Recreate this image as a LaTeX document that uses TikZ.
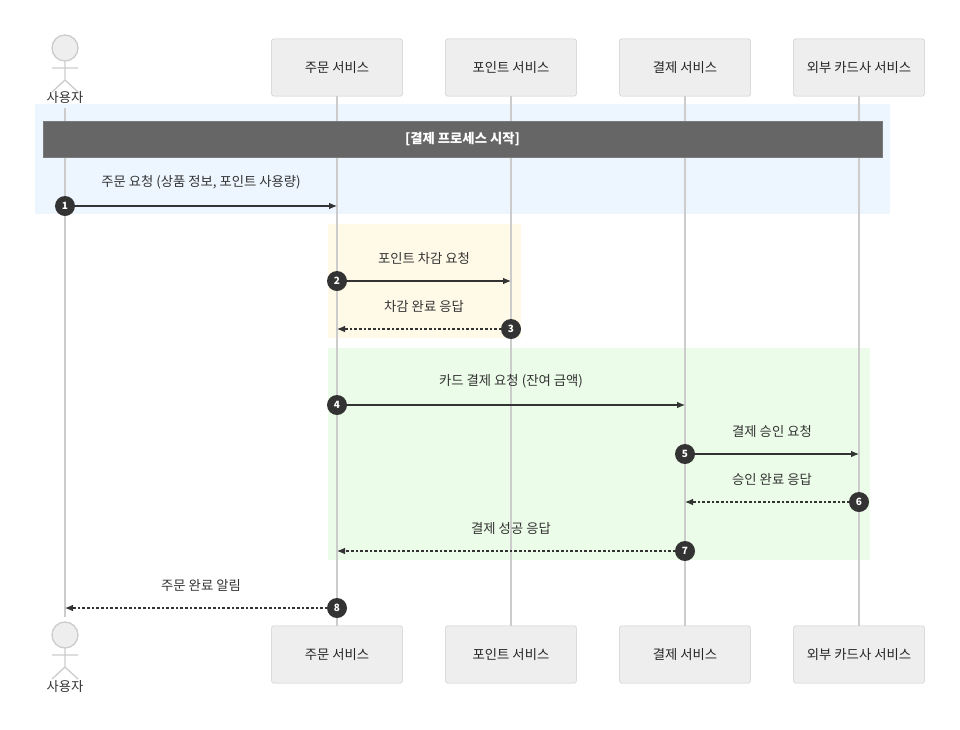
\documentclass[tikz,border=0pt]{standalone}
\usepackage{fontspec}
\setmainfont{Noto Sans CJK KR}
\usetikzlibrary{arrows.meta,calc}
\definecolor{boxfill}{HTML}{EEEEEE}
\definecolor{boxline}{HTML}{CCCCCC}
\definecolor{badge}{HTML}{333333}
\definecolor{bgblue}{HTML}{EDF6FF}
\definecolor{bgyellow}{HTML}{FFFAE8}
\definecolor{bggreen}{HTML}{EBFCE8}
\tikzset{
  part/.style={draw=boxline,fill=boxfill,rounded corners=1.5pt,minimum width=98pt,minimum height=43pt,font=\fontsize{10}{12}\selectfont,text=black!85},
  life/.style={draw=boxline,line width=1pt},
  msg/.style={-{Latex[length=6pt,width=5pt]},line width=0.8pt,draw=badge},
  reply/.style={msg,dash pattern=on 2pt off 1.5pt},
  num/.style={circle,fill=badge,text=white,inner sep=0pt,minimum size=15pt,font=\fontsize{7.5}{8}\selectfont\bfseries},
  lbl/.style={font=\fontsize{10}{12}\selectfont,text=black!80},
  actor/.style={draw=boxline,line width=1pt}
}
\begin{document}
\begin{tikzpicture}[x=0.75pt,y=-0.75pt]
  \useasboundingbox (0,0) rectangle (960,729);
  % group backgrounds
  \fill[bgblue] (35,104) rectangle (890,214);
  \fill[bgyellow] (328,224) rectangle (521,338);
  \fill[bggreen] (328,348) rectangle (870,560);
  % lifelines
  \foreach \x/\top/\bot [count=\k] in {65/108/617,337/96/626,511/96/626,685/96/626,859/96/626}{
    \coordinate (t-\k) at (\x,\top);
    \coordinate (b-\k) at (\x,\bot);
    \draw [life] (t-\k) -- (b-\k);
  }
  % participants
  \foreach \x/\name [count=\k from 2] in {337/주문 서비스,511/포인트 서비스,685/결제 서비스,859/외부 카드사 서비스}{
    \node [part] (top-\k) at (\x,67.5) {\name};
    \node [part] (bot-\k) at (\x,654.5) {\name};
  }
  % actor
  \foreach \y/\ly in {48/98,635/686}{
    \fill[boxfill] (65,\y) circle (13);
    \draw [actor] (65,\y) circle (13);
    \draw [actor] (65,\y+13) -- (65,\y+32) (52,\y+20) -- (78,\y+20)
      (52,\y+44) -- (65,\y+32) -- (78,\y+44);
    \node [lbl] at (65,\ly) {사용자};
  }
  % note bar
  \node [draw=boxline!60!black,fill=black!60,minimum width=629pt,minimum height=27pt,text=white,font=\fontsize{10}{12}\selectfont\bfseries] (bar) at (462.5,139) {[결제 프로세스 시작]};
  % messages
  \foreach \a/\b/\y/\n/\s/\t in {
    1/2/206/1/msg/주문 요청 (상품 정보{,} 포인트 사용량),
    2/3/281/2/msg/포인트 차감 요청,
    3/2/329/3/reply/차감 완료 응답,
    2/4/405/4/msg/카드 결제 요청 (잔여 금액),
    4/5/454/5/msg/결제 승인 요청,
    5/4/502/6/reply/승인 완료 응답,
    4/2/551/7/reply/결제 성공 응답,
    2/1/608/8/reply/주문 완료 알림}{
    \path (t-\a |- 0,\y) coordinate (s-\n) (t-\b |- 0,\y) coordinate (e-\n);
    \draw [\s] (s-\n) -- (e-\n);
    \node [lbl,above=9pt] at ($(s-\n)!0.5!(e-\n)$) {\t};
    \node [num] at (s-\n) {\n};
  }
\end{tikzpicture}
\end{document}
